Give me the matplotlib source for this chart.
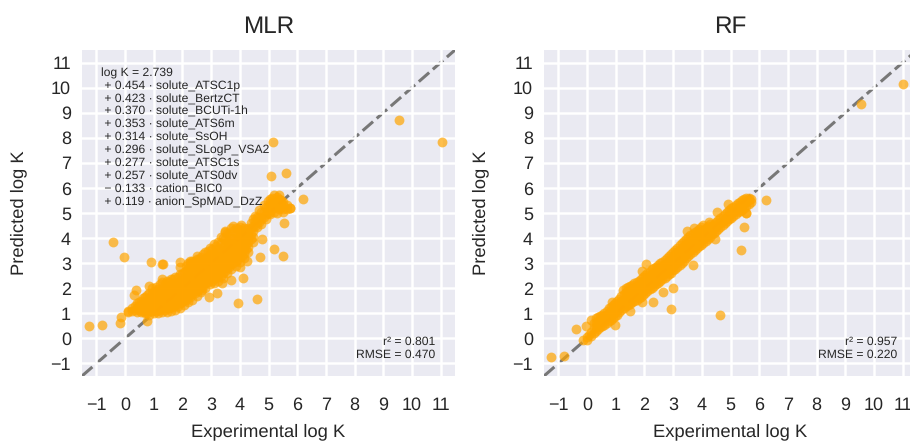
import matplotlib
matplotlib.use('Agg')
import matplotlib.pyplot as plt

plt.rcParams['font.family'] = ['Liberation Sans', 'DejaVu Sans']
plt.rcParams['text.hinting'] = 'no_hinting'

ticks = [-1, 0, 1, 2, 3, 4, 5, 6, 7, 8, 9, 10, 11]
tick_labels = ['\u22121', '0', '1', '2', '3', '4', '5', '6', '7', '8', '9', '10', '11']

# Values: isolated points and edge bumps first
mlr_out_exp = [-1.24, -0.8, -0.42, -0.05, -0.19, -0.15, 0.9, 1.32, 1.28, 1.93, 1.9, 5.2, 5.5, 4.71, 4.78,
               4.6, 3.94, 4.12, 3.69, 2.91, 3.2, 5.55, 5.16, 5.09, 5.6, 6.21, 9.56, 11.03, 0.37, 0.3,
               3.48, 3.78, 4.03, 4.25, 4.02, 3.38, 2.68, 1.29, 0.85, 2.51, 2.27, 0.78, 5.3, 5.76, 5.5, 5.0]
mlr_out_pred = [0.5, 0.54, 3.83, 3.26, 0.6, 0.84, 3.06, 2.96, 2.98, 3.03, 2.85, 3.58, 3.3, 3.24, 3.97,
                1.59, 1.42, 2.39, 2.33, 1.67, 1.82, 4.6, 7.82, 6.49, 6.58, 5.56, 8.72, 7.84, 1.92, 1.72,
                4.27, 4.5, 4.54, 3.1, 2.86, 2.2, 1.91, 2.36, 2.07, 3.3, 3.1, 0.71, 5.0, 5.19, 5.03, 5.0]

# Dense band: experimental value and the predicted values seen at it
mlr_band_exp = [0.1, 0.25, 0.4, 0.55, 0.7, 0.85, 1.0, 1.15, 1.3, 1.45, 1.6, 1.75, 1.9, 2.05, 2.2, 2.35, 2.5,
                2.65, 2.8, 2.95, 3.1, 3.25, 3.4, 3.55, 3.7, 3.85, 4.0, 4.15, 4.3, 4.45, 4.6, 4.75, 4.9, 5.05,
                5.2, 5.35, 5.5, 5.65, 5.76]
mlr_band_pred = [
    [1.05, 1.1],
    [1.08, 1.2],
    [1.05, 1.2, 1.4],
    [1.05, 1.2, 1.35, 1.5],
    [1.0, 1.15, 1.3, 1.45, 1.65],
    [0.95, 1.1, 1.25, 1.4, 1.6, 1.8],
    [1.0, 1.15, 1.3, 1.45, 1.65, 1.9],
    [1.0, 1.15, 1.35, 1.55, 1.75, 1.95],
    [1.05, 1.2, 1.4, 1.6, 1.8, 2.0, 2.25],
    [1.05, 1.2, 1.4, 1.6, 1.85, 2.05, 2.3],
    [1.1, 1.3, 1.5, 1.7, 1.95, 2.15, 2.35],
    [1.15, 1.35, 1.55, 1.8, 2.0, 2.2, 2.45],
    [1.2, 1.4, 1.65, 1.85, 2.1, 2.3, 2.55],
    [1.35, 1.55, 1.75, 1.95, 2.2, 2.4, 2.65],
    [1.45, 1.65, 1.85, 2.05, 2.3, 2.55, 2.8, 3.0],
    [1.55, 1.75, 1.95, 2.15, 2.4, 2.65, 2.9, 3.1],
    [1.7, 1.9, 2.1, 2.3, 2.5, 2.75, 3.0, 3.15],
    [1.85, 2.05, 2.25, 2.45, 2.65, 2.85, 3.05, 3.25],
    [2.0, 2.2, 2.4, 2.6, 2.8, 3.0, 3.2, 3.45],
    [2.15, 2.35, 2.55, 2.75, 2.95, 3.15, 3.35, 3.6],
    [2.2, 2.4, 2.6, 2.8, 3.0, 3.2, 3.4, 3.75],
    [2.3, 2.5, 2.7, 2.9, 3.1, 3.3, 3.55, 3.85],
    [2.4, 2.6, 2.8, 3.0, 3.2, 3.4, 3.65, 4.0],
    [2.6, 2.8, 3.0, 3.2, 3.4, 3.6, 3.85, 4.2],
    [2.75, 2.95, 3.15, 3.35, 3.55, 3.75, 4.0, 4.4],
    [2.9, 3.1, 3.3, 3.5, 3.7, 3.9, 4.15, 4.4],
    [3.05, 3.25, 3.45, 3.65, 3.85, 4.05, 4.25, 4.45],
    [3.2, 3.4, 3.6, 3.8, 4.0, 4.2, 4.4],
    [3.45, 3.65, 3.85, 4.05, 4.25, 4.4],
    [3.85, 4.05, 4.3, 4.5, 4.75],
    [4.45, 4.65, 4.85],
    [4.55, 4.75, 5.05],
    [4.75, 4.95, 5.25],
    [4.95, 5.15, 5.4, 5.55],
    [5.05, 5.25, 5.45, 5.7],
    [5.15, 5.35, 5.55, 5.7],
    [5.15, 5.3, 5.45],
    [5.15, 5.3],
    [5.2],
]

# Second pass over the band, between the columns above
mlr_fill_exp = [0.33, 0.48, 0.63, 0.78, 0.93, 1.08, 1.23, 1.38, 1.53, 1.68, 1.83, 1.98, 2.13, 2.28, 2.43,
                2.58, 2.73, 2.88, 3.03, 3.18, 3.33, 3.48, 3.63, 3.78, 3.93, 4.08, 4.23, 4.38, 4.53, 4.68,
                4.83, 4.98, 5.13, 5.28, 5.43]
mlr_fill_pred = [
    [1.12, 1.3],
    [1.12, 1.28, 1.45],
    [1.08, 1.22, 1.38, 1.6],
    [1.02, 1.18, 1.32, 1.5, 1.72],
    [1.08, 1.22, 1.38, 1.55, 1.78, 2.0],
    [1.08, 1.25, 1.45, 1.65, 1.85, 2.05],
    [1.12, 1.3, 1.5, 1.7, 1.9, 2.15],
    [1.12, 1.3, 1.5, 1.72, 1.95, 2.18],
    [1.2, 1.4, 1.6, 1.82, 2.05, 2.25],
    [1.25, 1.45, 1.68, 1.9, 2.1, 2.35],
    [1.3, 1.52, 1.75, 1.98, 2.2, 2.45],
    [1.45, 1.65, 1.85, 2.08, 2.3, 2.55],
    [1.55, 1.75, 1.95, 2.18, 2.42, 2.68, 2.9],
    [1.65, 1.85, 2.05, 2.28, 2.52, 2.78, 3.0],
    [1.8, 2.0, 2.2, 2.4, 2.62, 2.88, 3.1],
    [1.95, 2.15, 2.35, 2.55, 2.75, 2.95, 3.18],
    [2.1, 2.3, 2.5, 2.7, 2.9, 3.1, 3.35],
    [2.25, 2.45, 2.65, 2.85, 3.05, 3.25, 3.5],
    [2.3, 2.5, 2.7, 2.9, 3.1, 3.3, 3.55],
    [2.4, 2.6, 2.8, 3.0, 3.2, 3.45, 3.7],
    [2.5, 2.7, 2.9, 3.1, 3.3, 3.52, 3.8, 4.05],
    [2.7, 2.9, 3.1, 3.3, 3.5, 3.72, 3.98, 4.25],
    [2.85, 3.05, 3.25, 3.45, 3.65, 3.88, 4.15],
    [3.0, 3.2, 3.4, 3.6, 3.8, 4.02, 4.28],
    [3.15, 3.35, 3.55, 3.75, 3.95, 4.15, 4.35],
    [3.3, 3.5, 3.7, 3.9, 4.1, 4.3],
    [3.55, 3.75, 3.95, 4.15, 4.32],
    [3.95, 4.18, 4.4, 4.62],
    [4.5, 4.7, 4.9],
    [4.65, 4.85, 5.1],
    [4.85, 5.05, 5.3],
    [5.05, 5.25, 5.48],
    [5.15, 5.35, 5.6],
    [5.25, 5.45, 5.62],
    [5.22, 5.38, 5.5],
]

rf_out_exp = [-1.25, -0.8, -0.4, -0.03, -0.15, 0.06, 0.96, 4.62, 2.94, 2.3, 2.65, 3.0, 1.92, 2.06,
              5.36, 5.47, 4.53, 5.55, 6.23, 9.56, 11.0, 4.93, 5.53,
              3.48, 3.73, 4.24, 3.69, 4.47, 1.27, 0.86, 1.92, 1.51]
rf_out_pred = [-0.76, -0.7, 0.37, 0.5, -0.08, 0.12, 0.55, 0.95, 1.19, 1.44, 1.86, 2.02, 2.7, 2.97,
               3.54, 4.44, 5.02, 4.99, 5.52, 9.34, 10.13, 5.34, 5.0,
               4.27, 4.4, 4.63, 2.94, 3.97, 1.91, 1.44, 1.44, 1.11]

rf_band_exp = [0.0, 0.15, 0.3, 0.45, 0.6, 0.75, 0.9, 1.05, 1.2, 1.35, 1.5, 1.65, 1.8, 1.95, 2.1, 2.25, 2.4,
               2.55, 2.7, 2.85, 3.0, 3.15, 3.3, 3.45, 3.6, 3.75, 3.9, 4.05, 4.2, 4.35, 4.5, 4.65, 4.8, 4.95,
               5.1, 5.25, 5.4, 5.55, 5.7]
rf_band_pred = [
    [-0.05, 0.05],
    [0.1, 0.25, 0.72],
    [0.28, 0.45, 0.6, 0.82],
    [0.45, 0.6, 0.75, 0.9],
    [0.55, 0.72, 0.88, 1.0],
    [0.68, 0.85, 1.02, 1.2],
    [0.8, 0.98, 1.15, 1.32],
    [0.95, 1.12, 1.3, 1.48],
    [1.12, 1.3, 1.48, 1.7],
    [1.3, 1.48, 1.66, 1.85, 2.02],
    [1.38, 1.55, 1.72, 1.9, 2.08],
    [1.48, 1.66, 1.84, 2.02, 2.2],
    [1.6, 1.78, 1.95, 2.12, 2.3],
    [1.72, 1.9, 2.08, 2.26, 2.44],
    [1.88, 2.06, 2.24, 2.42, 2.6],
    [2.02, 2.2, 2.38, 2.56, 2.75],
    [2.15, 2.32, 2.5, 2.68, 2.85],
    [2.3, 2.48, 2.65, 2.82, 3.0],
    [2.42, 2.6, 2.78, 2.96, 3.12],
    [2.55, 2.72, 2.9, 3.08, 3.28],
    [2.72, 2.9, 3.08, 3.26, 3.45],
    [2.85, 3.05, 3.25, 3.45, 3.62],
    [3.02, 3.2, 3.4, 3.6, 3.8],
    [3.2, 3.38, 3.56, 3.75, 3.95],
    [3.35, 3.52, 3.7, 3.9, 4.12],
    [3.52, 3.7, 3.88, 4.06, 4.25],
    [3.68, 3.85, 4.02, 4.2, 4.35],
    [3.8, 3.98, 4.15, 4.32, 4.52],
    [3.95, 4.12, 4.3, 4.48],
    [4.15, 4.32, 4.5],
    [4.3, 4.48, 4.66],
    [4.45, 4.62, 4.8],
    [4.6, 4.78, 4.95],
    [4.75, 4.92, 5.12],
    [4.88, 5.05, 5.25],
    [5.02, 5.2, 5.4],
    [5.12, 5.3, 5.5],
    [5.28, 5.44, 5.58],
    [5.42, 5.55],
]

rf_fill_exp = [0.23, 0.38, 0.53, 0.68, 0.83, 0.98, 1.13, 1.28, 1.43, 1.58, 1.73, 1.88, 2.03, 2.18, 2.33,
               2.48, 2.63, 2.78, 2.93, 3.08, 3.23, 3.38, 3.53, 3.68, 3.83, 3.98, 4.13, 4.28, 4.43, 4.58,
               4.73, 4.88, 5.03, 5.18, 5.33, 5.48, 5.63]
rf_fill_pred = [
    [0.2, 0.4, 0.62],
    [0.38, 0.55, 0.7, 0.85],
    [0.5, 0.66, 0.82, 0.95],
    [0.62, 0.8, 0.95, 1.1],
    [0.75, 0.92, 1.08, 1.25],
    [0.88, 1.05, 1.22, 1.4],
    [1.04, 1.2, 1.38, 1.58],
    [1.2, 1.38, 1.58, 1.78],
    [1.34, 1.52, 1.7, 1.88, 2.05],
    [1.44, 1.62, 1.8, 1.98, 2.14],
    [1.54, 1.72, 1.9, 2.08, 2.25],
    [1.66, 1.84, 2.02, 2.2, 2.36],
    [1.8, 1.98, 2.16, 2.34, 2.52],
    [1.95, 2.12, 2.3, 2.48, 2.66],
    [2.08, 2.26, 2.44, 2.62, 2.8],
    [2.22, 2.4, 2.58, 2.76, 2.92],
    [2.36, 2.54, 2.72, 2.9, 3.06],
    [2.48, 2.66, 2.84, 3.02, 3.2],
    [2.62, 2.8, 3.0, 3.18, 3.36],
    [2.78, 2.98, 3.16, 3.35, 3.54],
    [2.94, 3.12, 3.32, 3.52, 3.72],
    [3.1, 3.3, 3.48, 3.68, 3.88],
    [3.28, 3.46, 3.64, 3.82, 4.04],
    [3.44, 3.62, 3.8, 3.98, 4.18],
    [3.6, 3.78, 3.95, 4.14, 4.3],
    [3.74, 3.92, 4.1, 4.26, 4.44],
    [3.88, 4.06, 4.22, 4.4],
    [4.05, 4.22, 4.4, 4.55],
    [4.22, 4.4, 4.58],
    [4.38, 4.55, 4.74],
    [4.52, 4.7, 4.88],
    [4.68, 4.85, 5.04],
    [4.82, 5.0, 5.18],
    [4.95, 5.12, 5.32],
    [5.08, 5.26, 5.45],
    [5.2, 5.38, 5.54],
    [5.34, 5.5, 5.6],
]

mlr_eq_names = ['solute_ATSC1p', 'solute_BertzCT', 'solute_BCUTi-1h', 'solute_ATS6m', 'solute_SsOH',
                'solute_SLogP_VSA2', 'solute_ATSC1s', 'solute_ATS0dv', 'cation_BIC0', 'anion_SpMAD_DzZ']
mlr_eq_coefs = ['+ 0.454', '+ 0.423', '+ 0.370', '+ 0.353', '+ 0.314', '+ 0.296', '+ 0.277', '+ 0.257',
                '\u2212 0.133', '+ 0.119']


# Flatten the band columns and add the isolated points
def collect(out_exp, out_pred, columns):
    xs = list(out_exp)
    ys = list(out_pred)
    for band_exp, band_pred in columns:
        for x, col in zip(band_exp, band_pred):
            for y in col:
                xs.append(x)
                ys.append(y)
    return xs, ys


def draw_panel(ax, xs, ys, title, stats):
    ax.set_facecolor('#EAEAF2')
    for s in ax.spines.values():
        s.set_visible(False)
    ax.set_axisbelow(False)
    ax.grid(True, color='white', linewidth=1.8, zorder=1.6)
    ax.plot([-1.5, 11.5], [-1.5, 11.5], color='#777777', linewidth=2.2, dashes=(4.5, 1.6), zorder=1.5)
    ax.scatter(xs, ys, s=50, color='orange', alpha=0.7, linewidths=0, zorder=3)
    ax.set_xlim(-1.5, 11.5)
    ax.set_ylim(-1.5, 11.5)
    ax.set_xticks(ticks)
    ax.set_xticklabels(tick_labels)
    ax.set_yticks(ticks)
    ax.set_yticklabels(tick_labels)
    ax.tick_params(length=0, labelsize=13, labelcolor='#262626')
    ax.tick_params(axis='x', pad=15)
    ax.tick_params(axis='y', pad=8)
    ax.set_xlabel('Experimental log K', fontsize=13.2, color='#262626', labelpad=7)
    ax.set_ylabel('Predicted log K', fontsize=13.2, color='#262626', labelpad=17)
    ax.set_title(title, fontsize=17.5, color='#262626', pad=12)
    ax.text(0.948, 0.0845, stats, transform=ax.transAxes, ha='right', va='center', fontsize=8.7,
            color='#262626', linespacing=1.18, zorder=5)


fig = plt.figure(figsize=(9.1, 4.42), dpi=100)
ax1 = fig.add_axes([82 / 910, 1 - 376 / 442, 373 / 910, 326 / 442])
ax2 = fig.add_axes([544 / 910, 1 - 376 / 442, 373 / 910, 326 / 442])

mlr_x, mlr_y = collect(mlr_out_exp, mlr_out_pred,
                       [(mlr_band_exp, mlr_band_pred), (mlr_fill_exp, mlr_fill_pred)])
rf_x, rf_y = collect(rf_out_exp, rf_out_pred,
                     [(rf_band_exp, rf_band_pred), (rf_fill_exp, rf_fill_pred)])

draw_panel(ax1, mlr_x, mlr_y, 'MLR', 'r\u00b2 = 0.801\nRMSE = 0.470')
draw_panel(ax2, rf_x, rf_y, 'RF', 'r\u00b2 = 0.957\nRMSE = 0.220')

eq = 'log K = 2.739'
for c, n in zip(mlr_eq_coefs, mlr_eq_names):
    eq += '\n ' + c + ' \u00b7 ' + n
ax1.text(0.05, 0.946, eq, transform=ax1.transAxes, ha='left', va='top', fontsize=8.7,
         color='#262626', linespacing=1.2, zorder=5)

fig.savefig('out.png', dpi=100)
